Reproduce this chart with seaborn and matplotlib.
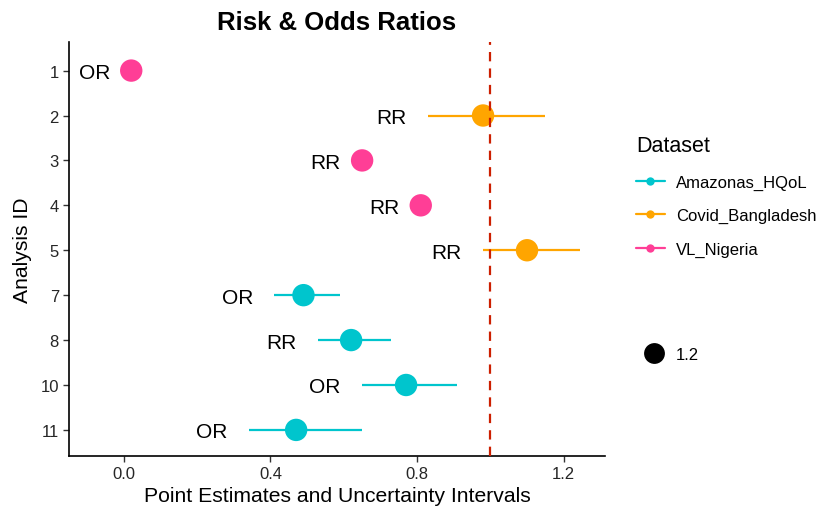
import matplotlib
matplotlib.use("Agg")
import matplotlib.pyplot as plt
from matplotlib.lines import Line2D
import seaborn as sns
import pandas as pd

# Analyses, their dataset, effect measure and interval
analysis_id = ["1", "2", "3", "4", "5", "7", "8", "10", "11"]
dataset = ["VL_Nigeria", "Covid_Bangladesh", "VL_Nigeria", "VL_Nigeria",
           "Covid_Bangladesh", "Amazonas_HQoL", "Amazonas_HQoL",
           "Amazonas_HQoL", "Amazonas_HQoL"]
measure = ["OR", "RR", "RR", "RR", "RR", "OR", "RR", "OR", "OR"]
estimate = [0.02, 0.98, 0.65, 0.81, 1.10, 0.49, 0.62, 0.77, 0.47]
lower = [0.02, 0.83, 0.65, 0.81, 0.98, 0.41, 0.53, 0.65, 0.34]
upper = [0.02, 1.15, 0.65, 0.81, 1.245, 0.59, 0.73, 0.91, 0.65]

dataset_order = ["Amazonas_HQoL", "Covid_Bangladesh", "VL_Nigeria"]
palette = {"Amazonas_HQoL": "#00C5CD",
           "Covid_Bangladesh": "#FFA500",
           "VL_Nigeria": "#FF3E96"}

df = pd.DataFrame({"id": analysis_id, "dataset": dataset, "measure": measure,
                   "estimate": estimate, "lower": lower, "upper": upper})
df["pos"] = range(len(df))

sns.set_theme(style="ticks")
plt.rcParams["font.family"] = ["Liberation Sans", "DejaVu Sans"]
plt.rcParams["text.color"] = "black"
plt.rcParams["axes.labelcolor"] = "black"

fig = plt.figure(figsize=(8.25, 5.1), dpi=100)
ax = fig.add_axes([0.084, 0.104, 0.649, 0.812])

# uncertainty intervals
for _, r in df.iterrows():
    ax.plot([r["lower"], r["upper"]], [r["pos"], r["pos"]],
            color=palette[r["dataset"]], lw=1.6, solid_capstyle="butt", zorder=2)

sns.scatterplot(data=df, x="estimate", y="pos", hue="dataset",
                hue_order=dataset_order, palette=palette, s=260,
                edgecolor="none", legend=False, ax=ax, zorder=3)

# measure labels to the left of each interval
for _, r in df.iterrows():
    ax.text(r["lower"] - 0.058, r["pos"], r["measure"], ha="right",
            va="center_baseline", fontsize=15, color="black", zorder=4)

ax.axvline(1.0, color="#CC1F00", lw=1.6, dashes=(4.2, 3.2), zorder=5)

ax.set_xlim(-0.149, 1.312)
ax.set_ylim(len(df) - 0.42, -0.64)
ax.set_xticks([0.0, 0.4, 0.8, 1.2])
ax.set_xticklabels(["0.0", "0.4", "0.8", "1.2"])
ax.set_yticks(df["pos"])
ax.set_yticklabels(df["id"])
ax.tick_params(axis="both", labelsize=12, labelcolor="#262626",
               color="#333333", length=4, width=1)
for sp in ["left", "bottom"]:
    ax.spines[sp].set_linewidth(1.2)
    ax.spines[sp].set_color("black")
sns.despine(ax=ax)

ax.set_xlabel("Point Estimates and Uncertainty Intervals", fontsize=15.2,
              labelpad=3)
ax.set_ylabel("Analysis ID", fontsize=15.2, labelpad=6)
ax.set_title("Risk & Odds Ratios", fontsize=18.5, fontweight="bold",
             color="black", pad=9)

# colour legend
handles = [Line2D([0], [0], color=palette[d], lw=1.6, marker="o",
                  markersize=6, markeredgewidth=0) for d in dataset_order]
fig.legend(handles, dataset_order, title="Dataset",
           loc="upper left", bbox_to_anchor=(0.753, 0.762),
           frameon=False, fontsize=12, title_fontsize=15.5,
           handlelength=1.7, handletextpad=0.7, labelspacing=1.1,
           alignment="left")

# size legend
size_handle = [Line2D([0], [0], color="black", lw=0, marker="o",
                      markersize=15, markeredgewidth=0)]
fig.legend(size_handle, ["1.2"], loc="upper left",
           bbox_to_anchor=(0.757, 0.347), frameon=False, fontsize=12,
           handlelength=1.7, handletextpad=0.5)

fig.savefig("out.png", dpi=100)
